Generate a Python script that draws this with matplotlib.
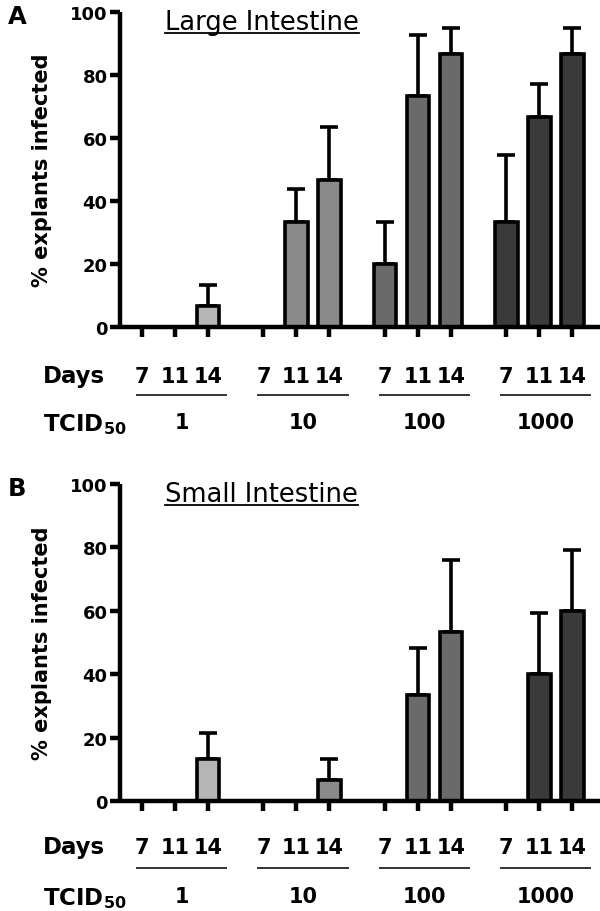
import matplotlib
matplotlib.use("Agg")
import matplotlib.pyplot as plt
import matplotlib.transforms as mtransforms
import numpy as np

plt.rcParams['font.family'] = ['DejaVu Sans']
plt.rcParams['mathtext.fontset'] = 'dejavusans'

doses = ['1', '10', '100', '1000']
days = ['7', '11', '14']
group_colors = ['#b5b5b5', '#8a8a8a', '#6a6a6a', '#3a3a3a']

large_mean = [[0, 0, 6.7], [0, 33.3, 46.7], [20.0, 73.3, 86.7], [33.3, 66.7, 86.7]]
large_err = [[0, 0, 6.6], [0, 10.4, 16.8], [13.3, 19.4, 8.3], [21.2, 10.3, 8.3]]
small_mean = [[0, 0, 13.3], [0, 0, 6.7], [0, 33.3, 53.3], [0, 40.0, 60.0]]
small_err = [[0, 0, 8.0], [0, 0, 6.6], [0, 14.9, 22.7], [0, 19.3, 19.3]]

panels = [
    ('A', 'Large Intestine', large_mean, large_err, 13, 328, 377, 396, 423),
    ('B', 'Small Intestine', small_mean, small_err, 485, 802, 848, 869, 897),
]

W, H = 600, 912
fig = plt.figure(figsize=(W / 100, H / 100), dpi=100)

group_step = 3.68
lw = 2.6

for letter, title, means, errs, ytop, ybot, ydays, yline, ytc in panels:
    ax = fig.add_axes([120 / W, 1 - ybot / H, 480 / W, (ybot - ytop) / H])
    xs, vals, es, cols = [], [], [], []
    for g in range(4):
        for i in range(3):
            xs.append(g * group_step + i)
            vals.append(means[g][i])
            es.append(errs[g][i])
            cols.append(group_colors[g])
    xs = np.array(xs)
    vals = np.array(vals)
    es = np.array(es)
    nz = vals > 0
    ax.bar(xs[nz], vals[nz], width=0.68, color=np.array(cols)[nz],
           edgecolor='black', linewidth=lw, zorder=2)
    ax.errorbar(xs[nz], vals[nz], yerr=[np.zeros(nz.sum()), es[nz]], fmt='none',
                ecolor='black', elinewidth=lw, capsize=6.5, capthick=lw, zorder=1)
    ax.set_xlim(-0.667, 13.88)
    ax.set_ylim(0, 100)
    ax.set_yticks([0, 20, 40, 60, 80, 100])
    ax.set_xticks(xs)
    ax.set_xticklabels([])
    ax.spines['top'].set_visible(False)
    ax.spines['right'].set_visible(False)
    for s in ['left', 'bottom']:
        ax.spines[s].set_linewidth(3.2)
        ax.spines[s].set_capstyle('butt')
    ax.tick_params(axis='y', direction='out', length=7, width=3.2, pad=2,
                   labelsize=13)
    ax.tick_params(axis='x', direction='out', length=7.5, width=3.2)
    for lab in ax.get_yticklabels():
        lab.set_fontweight('bold')

    tr = mtransforms.blended_transform_factory(ax.transData, fig.transFigure)
    for x, d in zip(xs, days * 4):
        fig.text(x, 1 - ydays / H, d, transform=tr, ha='center', va='center',
                 fontsize=15, fontweight='bold')
    for g in range(4):
        c = g * group_step + 1
        line = plt.Line2D([c - 1.15, c + 1.55], [1 - yline / H] * 2, transform=tr,
                          color='#333333', linewidth=1.4)
        fig.add_artist(line)
        fig.text(c + 0.2, 1 - ytc / H, doses[g], transform=tr, ha='center',
                 va='center', fontsize=15, fontweight='bold')

    fig.text(105 / W, 1 - ydays / H, 'Days', ha='right', va='center',
             fontsize=16.5, fontweight='bold')
    fig.text(127 / W, 1 - (ytc + 2) / H, r'TCID$_{\mathbf{50}}$', ha='right',
             va='center', fontsize=16.5, fontweight='bold')

    fig.text(42 / W, 1 - ((ytop + ybot) / 2) / H, '% explants infected',
             rotation=90, ha='center', va='center', fontsize=15, fontweight='bold')
    fig.text(8 / W, 1 - (ytop + 4) / H, letter, ha='left', va='center',
             fontsize=17.5, fontweight='bold')
    t = fig.text(165 / W, 1 - (ytop + 17) / H, title, ha='left', va='baseline',
                 fontsize=18.5)
    fig.canvas.draw()
    bb = t.get_window_extent()
    fig.add_artist(plt.Line2D([bb.x0 / W, bb.x1 / W],
                              [1 - (ytop + 20.5) / H] * 2, transform=fig.transFigure,
                              color='black', linewidth=1.3))

fig.savefig('out.png', dpi=100)
